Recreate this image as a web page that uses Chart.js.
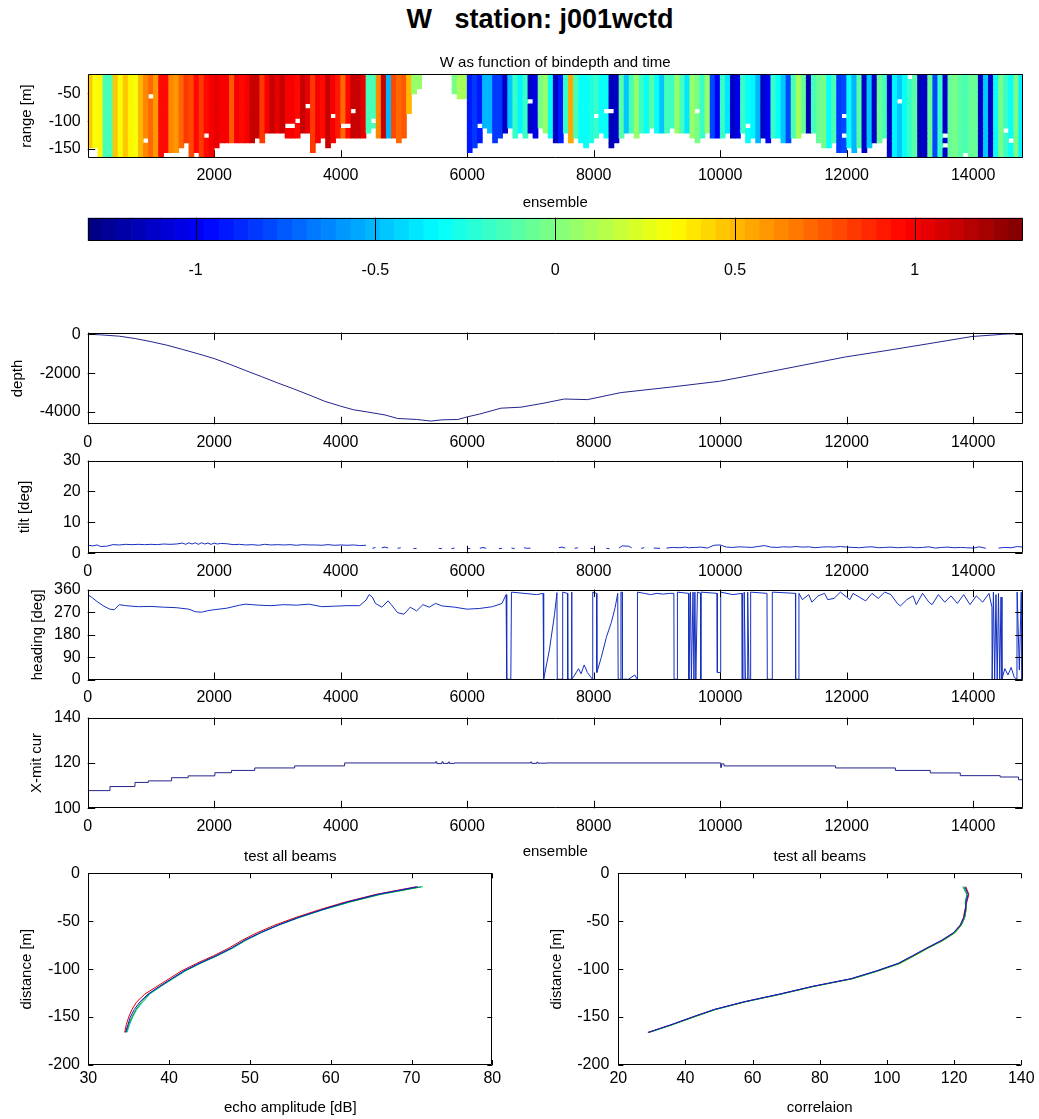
<!DOCTYPE html>
<html><head><meta charset="utf-8">
<script src="https://cdn.jsdelivr.net/npm/chart.js@4.4.1/dist/chart.umd.min.js"></script>
<style>
html,body{margin:0;padding:0;background:#fff;}
body{width:1039px;height:1119px;position:relative;overflow:hidden;font-family:"Liberation Sans",Arial,sans-serif;}
canvas{position:absolute;}
#title{position:absolute;left:0;width:1080px;top:4px;text-align:center;font-weight:bold;font-size:27px;line-height:30px;white-space:pre;color:#000;}
</style></head><body>
<div id="title">W   station: j001wctd</div>
<canvas id="cHeat"></canvas>
<canvas id="cBar"></canvas>
<canvas id="cDepth"></canvas>
<canvas id="cTilt"></canvas>
<canvas id="cHead"></canvas>
<canvas id="cXmit"></canvas>
<canvas id="cEcho"></canvas>
<canvas id="cCorr"></canvas>
<script>
// ---------------- DATA ----------------
const ensTicks = [0, 2000, 4000, 6000, 8000, 10000, 12000, 14000];
const heatXTicks = [2000, 4000, 6000, 8000, 10000, 12000, 14000];
const rangeTicks = [-150, -100, -50];
const cbarTicks = [-1, -0.5, 0, 0.5, 1];
const depthTicks = [-4000, -2000, 0];
const tiltTicks = [0, 10, 20, 30];
const headTicks = [0, 90, 180, 270, 360];
const xmitTicks = [100, 120, 140];
const distTicks = [-200, -150, -100, -50, 0];
const echoXTicks = [30, 40, 50, 60, 70, 80];
const corrXTicks = [20, 40, 60, 80, 100, 120, 140];

// heat map: bins (range, m) and one W value per ensemble column
const binDepth = [-20.4,-29.2,-38.0,-46.8,-55.6,-64.4,-73.2,-82.0,-90.8,-99.6,-108.4,-117.2,-126.0,-134.8,-143.6,-152.4,-161.2];
const colFirstEns = 40, colStepEns = 80;
const wCol = [
 0.45,0.30,0.35,-0.15,-0.15,0.45,0.30,0.45,0.35,0.30, 0.50,0.65,0.70,0.60,0.95,0.95,0.65,0.60,0.70,0.85,
 0.80,0.95,0.85,0.95,1.00,1.05,1.00,1.00,0.75,1.00, 0.95,1.00,1.10,1.10,0.85,1.00,1.10,1.05,1.10,1.00,
 1.00,0.95,1.10,1.05,0.85,1.00,0.95,1.10,1.00,0.90, 0.70,0.95,1.10,1.10,1.05,-0.15,-0.15,0.65,1.10,-0.50,
 0.80,0.70,0.75,0.50,0.05,0.05,0,0,0,0, 0,0,0.00,0.12,0.12,-0.90,-0.85,-0.90,-0.50,-0.50,
 -0.85,-0.85,-1.10,-0.45,-0.18,-0.35,-0.18,-1.10,-1.05,0.00, 0.05,-0.30,-1.10,-0.90,-0.18,0.55,-0.15,-0.30,-0.30,-0.25,
 -0.18,-0.30,-0.30,-1.15,-1.10,-0.10,-0.45,-0.15,0.05,-0.20, -0.30,-0.10,-0.30,-0.45,-0.15,-0.18,0.05,-0.15,-0.40,0.05,
 0.00,-0.18,0.05,-0.80,-1.00,-0.18,-0.40,-1.10,-1.05,-0.18, -0.30,-0.35,-0.50,-1.10,-1.00,-0.18,-0.30,-0.45,-0.80,-0.15,
 0.12,-0.05,-1.15,-0.15,-0.05,0.00,-0.30,-0.15,-0.85,-0.80, -0.30,-0.50,-0.10,-1.10,-0.45,-1.10,-0.05,-0.15,-1.10,-0.35,
 -0.45,-0.30,-0.18,-0.10,-1.15,-1.10,-0.05,-0.80,-0.18,-1.10, -0.05,0.00,-0.10,-0.15,-0.05,-0.05,-1.10,-0.45,-1.10,-0.30,
 0.00,-0.18,-0.30,0.00,-0.35];
// number of valid bins (from the top) in each column
const wValidBins = [
 15,15,17,17,17,17,17,17,17,17, 17,17,17,17,17,16,16,16,15,14,
 17,16,17,17,17,15,14,14,14,14, 14,14,14,13,14,12,12,12,12,13,
 13,13,12,12,16,14,13,15,14,13, 13,13,13,13,13,12,12,13,13,13,
 13,14,13,8,4,3,0,0,0,0, 0,0,4,5,5,16,15,14,12,12,
 14,13,12,11,13,12,13,12,13,11, 12,13,14,14,12,14,13,14,15,14,
 13,12,13,15,14,13,12,12,13,12, 12,11,12,12,12,11,12,12,12,13,
 14,13,12,13,13,13,12,13,13,12, 14,13,14,13,14,13,13,14,14,13,
 13,12,12,12,14,15,15,14,16,16, 15,16,15,16,15,14,14,13,17,17,
 17,17,17,17,17,17,17,17,17,17, 17,17,17,17,17,17,17,17,17,17,
 17,17,17,17,17];
// missing cells [column, bin]
const wHoles = [[12,4],[11,13],[23,12],[43,6],[48,8],[52,7],[41,9],[39,10],[40,10],[50,10],[51,10],[56,9],[56,11],
 [77,10],[78,11],[87,5],[100,8],[102,7],[103,7],[120,7],[130,10],[149,8],[149,12],[160,5],[162,0],[169,12],[169,14],[173,16],[181,11],[182,13]];
const cMin = -1.3, cMax = 1.3;

const depthSeries = [[0,0],[200,-30],[500,-100],[750,-220],[1000,-380],[1250,-560],[1500,-780],[1750,-1010],[2000,-1250],
 [2250,-1550],[2500,-1870],[2750,-2180],[3000,-2500],[3250,-2800],[3500,-3120],[3750,-3450],[4000,-3700],[4200,-3880],
 [4430,-4000],[4700,-4150],[4900,-4330],[5200,-4380],[5430,-4465],[5600,-4400],[5851,-4383],
 [6000,-4250],[6200,-4100],[6535,-3800],[6851,-3750],[7200,-3550],[7535,-3330],[7903,-3360],[8429,-3000],[9218,-2717],
 [9992,-2417],[10533,-2083],[11323,-1583],[11981,-1167],[12639,-833],[13270,-500],[13981,-117],[14480,0],[14783,40]];

const tiltSeries = [[0,2.6],[80,2.4],[150,2.7],[200,2.2],[300,2.3],[400,2.8],[500,2.7],[600,2.9],[700,2.8],[800,2.9],[900,2.8],
 [1000,2.9],[1100,2.8],[1200,3.0],[1300,2.9],[1400,3.0],[1500,3.3],[1550,2.9],[1600,3.4],[1650,3.0],[1700,3.4],[1750,2.9],
 [1800,3.4],[1850,3.0],[1900,3.3],[1950,2.9],[2000,3.3],[2050,3.0],[2100,3.2],[2200,3.1],[2300,2.8],[2400,2.9],[2500,2.7],
 [2600,2.8],[2700,2.6],[2800,2.9],[2900,2.7],[3000,2.8],[3100,2.7],[3200,2.8],[3300,2.6],[3400,2.8],[3500,2.7],[3600,2.7],
 [3700,2.6],[3800,2.8],[3900,2.6],[4000,2.7],[4100,2.6],[4200,2.7],[4300,2.5],[4400,2.6],[4450,null],[4500,1.6],[4550,1.9],
 [4600,null],[4650,1.8],[4700,2.0],[4750,1.7],[4800,null],[4900,1.6],[4950,1.8],[5000,null],[5150,1.5],[5200,1.6],[5250,null],
 [5400,1.5],[5450,null],[5550,1.6],[5600,1.5],[5650,null],[5750,1.5],[5800,1.7],[5850,null],[6000,1.6],[6050,1.5],[6100,null],
 [6200,1.6],[6250,1.9],[6300,1.6],[6350,null],[6500,1.5],[6550,1.6],[6600,null],[6700,1.7],[6750,1.5],[6800,null],[6900,1.8],
 [6950,1.6],[7000,1.7],[7050,null],[7250,1.6],[7300,null],[7450,1.8],[7500,2.0],[7550,1.7],[7600,null],[7700,1.6],[7750,1.8],
 [7800,null],[7950,1.6],[8000,1.5],[8050,null],[8200,1.6],[8250,1.5],[8300,null],[8400,1.7],[8450,2.4],[8550,2.3],[8600,1.8],
 [8650,null],[8750,1.6],[8800,1.8],[8850,null],[8950,1.7],[9050,1.6],[9100,null],[9150,1.7],[9250,1.9],[9350,1.8],[9450,2.0],
 [9500,1.8],[9600,1.9],[9700,2.0],[9800,1.7],[9900,2.6],[10000,2.7],[10100,2.0],[10200,1.9],[10300,2.1],[10400,2.0],[10500,1.9],
 [10600,2.2],[10700,2.5],[10800,2.0],[10900,1.9],[11000,2.1],[11100,2.0],[11200,2.2],[11300,2.0],[11400,2.1],[11500,1.8],
 [11600,2.0],[11700,2.1],[11800,2.0],[11900,2.2],[12000,2.0],[12100,1.9],[12200,1.8],[12300,2.0],[12400,2.1],[12500,1.8],
 [12600,1.9],[12700,2.0],[12800,1.8],[12900,1.9],[13000,2.0],[13100,1.8],[13200,1.9],[13300,2.1],[13400,1.7],[13500,1.9],
 [13600,2.0],[13700,1.8],[13800,1.9],[13900,1.8],[14000,1.7],[14100,2.1],[14200,1.6],[14250,null],[14400,1.7],[14500,1.9],
 [14600,1.8],[14700,2.2],[14783,2.0]];

const headingSeries = [[0,340],[60,330],[150,312],[250,295],[350,282],[420,280],[500,300],[600,296],[800,292],[1000,293],
 [1200,290],[1400,288],[1600,282],[1700,272],[1800,270],[1900,276],[2000,280],[2200,286],[2400,298],[2500,302],[2700,298],
 [2900,296],[3100,300],[3300,298],[3500,302],[3700,292],[3900,294],[4100,296],[4300,296],[4400,318],[4450,340],[4500,330],
 [4550,305],[4650,290],[4750,315],[4800,300],[4900,268],[5000,262],[5100,290],[5200,275],[5300,300],[5400,290],[5500,305],
 [5600,295],[5800,290],[6000,282],[6200,285],[6400,292],[6550,305],[6615,340],[6625,3],[6690,3],[6700,350],[6900,345],
 [7100,340],[7200,345],[7209,3],[7300,120],[7380,260],[7419,348],[7424,3],[7505,3],[7510,350],[7585,345],[7590,3],[7646,3],
 [7651,350],[7656,3],[7700,20],[7760,45],[7800,25],[7850,60],[7900,30],[7960,10],[7980,3],[7985,350],[8045,345],[8050,30],
 [8120,90],[8200,170],[8280,230],[8340,290],[8380,345],[8387,3],[8427,3],[8431,350],[8450,350],[8455,3],[8550,3],[8650,20],
 [8688,3],[8692,350],[8800,345],[8900,340],[9000,345],[9100,342],[9200,345],[9268,345],[9271,3],[9320,3],[9324,350],
 [9500,345],[9505,3],[9530,350],[9545,3],[9570,350],[9585,3],[9600,350],[9615,3],[9640,350],[9690,345],[9693,3],[9697,350],
 [9950,345],[9955,30],[10000,30],[10008,350],[10200,340],[10345,345],[10350,3],[10376,3],[10380,350],[10400,3],[10430,3],
 [10435,350],[10455,3],[10478,3],[10482,350],[10740,345],[10745,3],[10820,3],[10824,350],[11190,345],[11193,3],[11240,3],
 [11245,345],[11300,320],[11400,340],[11450,310],[11550,335],[11650,345],[11700,320],[11800,325],[11900,350],[12000,330],
 [12050,320],[12100,345],[12200,330],[12300,315],[12400,345],[12500,325],[12600,350],[12700,340],[12800,305],[12850,295],
 [12950,320],[13050,335],[13100,300],[13200,345],[13300,310],[13350,300],[13450,340],[13550,310],[13650,335],[13750,305],
 [13850,340],[13950,300],[14050,335],[14150,310],[14250,345],[14297,290],[14300,3],[14320,350],[14340,3],[14360,340],
 [14380,3],[14400,345],[14420,3],[14440,330],[14455,3],[14500,45],[14550,20],[14600,50],[14650,10],[14692,3],[14695,350],
 [14730,40],[14760,350],[14771,3],[14783,20]];

// transmit current: value holds from each ensemble to the next
const xmitEns = [0,352,747,958,1326,1589,2010,2273,2641,3272,4062,5500,5520,5600,5620,5700,5720,5800,7000,7020,7100,7120,7250,10008,10020,10060,11823,12770,13322,13796,14427,14717,14783];
const xmitVal = [107.8,109.6,111.4,112.1,113.5,114.3,115.7,116.7,117.8,118.7,120.0,120.5,119.7,120.5,119.8,120.4,119.8,120.0,120.4,119.8,120.3,119.9,120.0,118.0,119.6,118.7,117.8,116.7,115.6,114.4,113.8,112.6,112.6];

// profiles, all beams
const distance = [-14,-22,-30,-38,-46,-54,-62,-70,-78,-86,-94,-102,-110,-118,-126,-134,-142,-150,-158,-166];
const echoBeam1 = [70.8,65.8,62.0,58.9,56.0,53.5,51.3,49.3,47.7,45.8,43.7,41.8,40.3,38.8,37.4,36.4,35.7,35.2,34.9,34.6];
const echoBeam2 = [71.2,66.1,62.3,59.0,56.1,53.5,51.3,49.4,47.8,45.9,43.8,41.9,40.4,38.9,37.5,36.6,35.9,35.4,35.0,34.7];
const echoBeam3 = [70.6,65.6,61.8,58.6,55.7,53.1,50.9,49.0,47.4,45.5,43.4,41.5,40.0,38.5,37.0,36.0,35.4,35.0,34.7,34.5];
const echoBeam4 = [71.4,66.2,62.4,59.1,56.2,53.6,51.4,49.5,47.9,46.0,43.9,42.0,40.5,39.0,37.6,36.8,36.0,35.5,35.1,34.8];
const corrBeam1 = [123.2,124.2,123.6,123.4,122.9,121.8,119.8,116.2,111.8,107.6,103.3,96.7,89.2,77.8,68.0,57.5,48.6,42.0,35.7,28.9];
const corrBeam2 = [122.6,123.8,123.4,123.6,123.2,122.2,120.3,116.8,112.3,108.2,103.9,97.3,89.8,78.3,68.6,58.0,49.1,42.5,36.1,29.2];
const corrBeam3 = [123.5,124.4,123.8,123.2,122.8,121.9,119.9,116.4,111.9,107.8,103.5,96.9,89.4,77.9,68.2,57.6,48.7,42.1,35.8,28.8];
const corrBeam4 = [122.9,123.9,123.3,123.5,123.1,122.1,120.1,116.6,112.1,108.0,103.7,97.1,89.6,78.1,68.4,57.8,48.9,42.3,36.0,29.1];

// ---------------- RENDERING ----------------
const FONT = '"Liberation Sans", Arial, Helvetica, sans-serif';
const X_MAX = 14783;
const beamColors = ['#1010e0', '#00a000', '#e00000', '#00c0c0'];

function jet(v) {
  let p = (v - cMin) / (cMax - cMin);
  p = Math.max(0, Math.min(1, p));
  p = (Math.floor(p * 63.999) + 0.5) / 64;
  const c = t => Math.max(0, Math.min(1, t));
  const r = c(1.5 - Math.abs(4 * p - 3)), g = c(1.5 - Math.abs(4 * p - 2)), b = c(1.5 - Math.abs(4 * p - 1));
  return 'rgb(' + Math.round(r * 255) + ',' + Math.round(g * 255) + ',' + Math.round(b * 255) + ')';
}

function drawTicks(chart, o) {
  const {ctx, chartArea: ca} = chart;
  const xs = chart.scales.x, ys = chart.scales.y;
  ctx.save();
  ctx.strokeStyle = '#000'; ctx.lineWidth = 1; ctx.beginPath();
  const xl = o.full ? (ca.bottom - ca.top) : o.len;
  xs.ticks.forEach(t => {
    const p = Math.round(xs.getPixelForValue(t.value)) + 0.5;
    ctx.moveTo(p, ca.bottom); ctx.lineTo(p, ca.bottom - xl);
    if (!o.full) { ctx.moveTo(p, ca.top); ctx.lineTo(p, ca.top + xl); }
  });
  if (ys && ys.options.display !== false) {
    ys.ticks.forEach(t => {
      const p = Math.round(ys.getPixelForValue(t.value)) + 0.5;
      ctx.moveTo(ca.left, p); ctx.lineTo(ca.left + o.len, p);
      ctx.moveTo(ca.right, p); ctx.lineTo(ca.right - o.len, p);
    });
  }
  ctx.stroke(); ctx.restore();
}
function drawBox(chart, o) {
  const {ctx, chartArea: ca} = chart;
  const l = Math.round(ca.left) + 0.5, r = Math.round(ca.right) - 0.5, t = Math.round(ca.top) + 0.5, b = Math.round(ca.bottom) - 0.5;
  ctx.save(); ctx.strokeStyle = '#000'; ctx.lineWidth = 1; ctx.beginPath();
  if (o.noRight) { ctx.moveTo(r, t); ctx.lineTo(l, t); ctx.lineTo(l, b); ctx.lineTo(r, b); }
  else { ctx.rect(l, t, r - l, b - t); }
  ctx.stroke(); ctx.restore();
}
const framePlugin = {
  id: 'frame',
  beforeDatasetsDraw(chart, args, o) { if (o.under) drawTicks(chart, o); },
  afterDatasetsDraw(chart, args, o) { if (!o.under) drawTicks(chart, o); drawBox(chart, o); }
};

function panel(id, g, type, datasets) {
  const titleBlock = g.title ? 18 + g.titleGap : 0;
  const cTop = Math.floor(g.aT - titleBlock - 14);
  const cBot = Math.ceil(g.aB + g.xH);
  const cv = document.getElementById(id);
  cv.width = g.width; cv.height = cBot - cTop;
  cv.style.left = g.left + 'px'; cv.style.top = cTop + 'px';
  cv.style.width = g.width + 'px'; cv.style.height = (cBot - cTop) + 'px';
  const padTop = g.aT - cTop - titleBlock;
  const padBottom = cBot - (g.aB + g.xH);
  const yW = g.aL - g.left;
  const padRight = g.left + g.width - g.aR;
  const tickFont = {family: FONT, size: 16};
  const labFont = {family: FONT, size: 15};
  return new Chart(cv, {
    type: type,
    data: {datasets: datasets},
    plugins: [framePlugin],
    options: {
      responsive: false, animation: false, events: [],
      layout: {padding: {left: g.yHidden ? yW : 0, right: padRight, top: padTop, bottom: padBottom}, autoPadding: false},
      plugins: {
        legend: {display: false}, tooltip: {enabled: false},
        title: g.title ? {display: true, fullSize: false, text: g.title, color: '#000', font: {family: FONT, size: 15, weight: 'normal'}, padding: {top: 0, bottom: g.titleGap}} : {display: false},
        frame: g.frame
      },
      scales: {
        x: {
          type: 'linear', min: g.xMin, max: g.xMax, offset: false,
          grid: {display: false, drawTicks: false}, border: {display: false},
          ticks: {font: tickFont, color: '#000', padding: g.xPad, maxRotation: 0, autoSkip: false, callback: v => String(v)},
          afterBuildTicks: s => { s.ticks = g.xTicks.map(v => ({value: v})); },
          afterFit: s => { s.height = g.xH; },
          title: g.xTitle ? {display: true, text: g.xTitle, color: '#000', font: labFont, padding: {top: 0, bottom: 0}} : {display: false}
        },
        y: g.yHidden ? {display: false, min: 0, max: 1} : {
          type: 'linear', min: g.yMin, max: g.yMax,
          grid: {display: false, drawTicks: false}, border: {display: false},
          ticks: {font: tickFont, color: '#000', padding: g.yPad, autoSkip: false, callback: v => String(v)},
          afterBuildTicks: s => { s.ticks = g.yTicks.map(v => ({value: v})); },
          afterFit: s => { s.width = yW; },
          title: {display: true, text: g.yTitle, color: '#000', font: labFont, padding: {top: g.yTitlePad, bottom: 0}}
        }
      }
    }
  });
}

// ---- heat map ----
const holeSet = new Set(wHoles.map(h => h[0] + ',' + h[1]));
const binHalf = Math.abs(binDepth[0] - binDepth[1]) / 2;
const heatSets = binDepth.map((d, i) => {
  const data = [];
  wCol.forEach((v, k) => {
    if (i < wValidBins[k] && !holeSet.has(k + ',' + i)) {
      data.push({x: colFirstEns + colStepEns * k, y: [d - binHalf, d + binHalf], v: v});
    }
  });
  return {data: data, grouped: false, barPercentage: 1, categoryPercentage: 1, borderWidth: 0,
          backgroundColor: c => jet(c.raw.v)};
});
panel('cHeat', {left: 0, width: 1039, aL: 87.7, aR: 1022.7, aT: 74.3, aB: 157.7,
  title: 'W as function of bindepth and time', titleGap: 2.3, xH: 54.3, xPad: 8.7, xTitle: 'ensemble',
  xMin: 0, xMax: X_MAX, xTicks: heatXTicks, yMin: binDepth[binDepth.length - 1] - binHalf, yMax: binDepth[0] + binHalf,
  yTicks: rangeTicks, yTitle: 'range [m]', yTitlePad: 18, yPad: 7, frame: {len: 7.5, under: true}}, 'bar', heatSets);

// ---- colour bar ----
const cbarData = [];
for (let i = 0; i < 64; i++) {
  const v = cMin + (cMax - cMin) * (i + 0.5) / 64;
  cbarData.push({x: v, y: [0, 1], v: v});
}
panel('cBar', {left: 0, width: 1039, aL: 87.7, aR: 1022.7, aT: 217.7, aB: 240.7, xH: 45, xPad: 20.5,
  xMin: cMin, xMax: cMax, xTicks: cbarTicks, yHidden: true, frame: {full: true}}, 'bar',
  [{data: cbarData, grouped: false, barPercentage: 1, categoryPercentage: 1, borderWidth: 0, backgroundColor: c => jet(c.raw.v)}]);

// ---- time series panels ----
const pts = s => s.map(p => ({x: p[0], y: p[1]}));
const lineDs = (data, color, extra) => Object.assign({data: data, borderColor: color, borderWidth: 1, pointRadius: 0, fill: false, tension: 0, spanGaps: false}, extra || {});
const common = {left: 0, width: 1039, aL: 87.7, aR: 1022.7, xMin: 0, xMax: X_MAX, xTicks: ensTicks, yPad: 7, frame: {len: 7.5}};

panel('cDepth', Object.assign({}, common, {aT: 330, aB: 424.3, xH: 30, xPad: 8.8, yMin: -4630, yMax: 85, yTicks: depthTicks,
  yTitle: 'depth', yTitlePad: 8.5}), 'line', [lineDs(pts(depthSeries), '#24248c')]);
panel('cTilt', Object.assign({}, common, {aT: 458, aB: 553.3, xH: 30, xPad: 8.8, yMin: 0, yMax: 30, yTicks: tiltTicks,
  yTitle: 'tilt [deg]', yTitlePad: 16}), 'line', [lineDs(pts(tiltSeries), '#1a2ec0')]);
panel('cHead', Object.assign({}, common, {aT: 587.3, aB: 680, xH: 30, xPad: 8.1, yMin: 0, yMax: 360, yTicks: headTicks,
  yTitle: 'heading [deg]', yTitlePad: 28.5}), 'line', [lineDs(pts(headingSeries), '#1530c0')]);
panel('cXmit', Object.assign({}, common, {aT: 715, aB: 808.3, xH: 52.4, xPad: 8.8, xTitle: 'ensemble', yMin: 100, yMax: 140,
  yTicks: xmitTicks, yTitle: 'X-mit cur', yTitlePad: 28}), 'line',
  [lineDs(xmitEns.map((e, i) => ({x: e, y: xmitVal[i]})), '#24248c', {stepped: true})]);

// ---- profiles ----
const prof = (vals, ci) => lineDs(vals.map((v, i) => ({x: v, y: distance[i]})), beamColors[ci]);
panel('cEcho', {left: 0, width: 520, aL: 88.3, aR: 492.3, aT: 873.3, aB: 1065, title: 'test all beams', titleGap: 7,
  xH: 52.3, xPad: 4.4, xTitle: 'echo amplitude [dB]', xMin: 30, xMax: 80, xTicks: echoXTicks,
  yMin: -200, yMax: 0, yTicks: distTicks, yTitle: 'distance [m]', yTitlePad: 18, yPad: 8.3, frame: {len: 5}}, 'line',
  [prof(echoBeam1, 0), prof(echoBeam2, 1), prof(echoBeam3, 2), prof(echoBeam4, 3)]);
panel('cCorr', {left: 520, width: 519, aL: 618.3, aR: 1021.7, aT: 873.3, aB: 1065, title: 'test all beams', titleGap: 7,
  xH: 52.3, xPad: 4.4, xTitle: 'correlaion', xMin: 20, xMax: 140, xTicks: corrXTicks,
  yMin: -200, yMax: 0, yTicks: distTicks, yTitle: 'distance [m]', yTitlePad: 28, yPad: 9, frame: {len: 5, noRight: true}}, 'line',
  [prof(corrBeam1, 0), prof(corrBeam2, 1), prof(corrBeam3, 2), prof(corrBeam4, 3)]);
</script>
</body></html>
